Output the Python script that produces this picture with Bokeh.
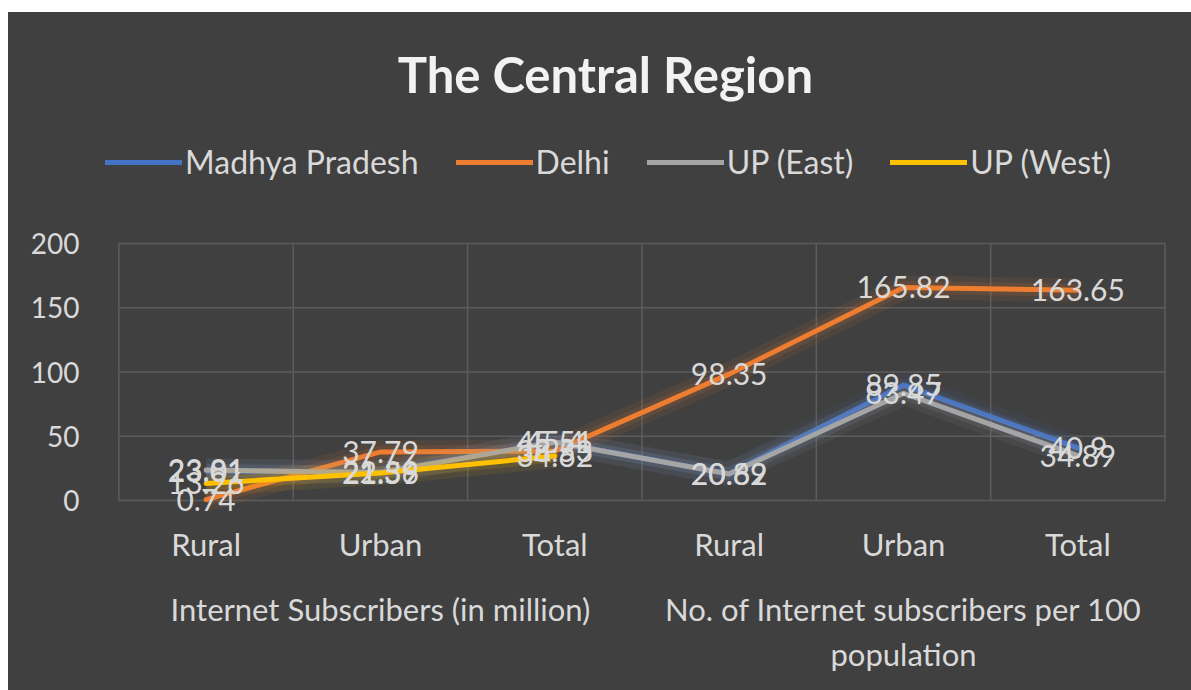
import math
from bokeh.plotting import figure
from bokeh.layouts import column, row
from bokeh.core.properties import value
from bokeh.models import (FactorRange, ColumnDataSource, LabelSet, Label, Legend, LegendItem, Range1d,
                          FixedTicker, Spacer, CategoricalAxis)
from bokeh.embed import file_html
from bokeh.resources import INLINE

title_text = "The Central Region"
groups = ["Internet Subscribers (in million)", "No. of Internet subscribers per 100\npopulation"]
categories = ["Rural", "Urban", "Total"]
series_names = ["Madhya Pradesh", "Delhi", "UP (East)", "UP (West)"]
madhya_pradesh = [23.01, 22.39, 45.51, 20.82, 89.85, 40.9]
delhi = [0.74, 37.79, 38.53, 98.35, 165.82, 163.65]
up_east = [23.81, 21.59, 45.40, 20.69, 83.47, 34.89]
up_west = [13.26, 21.36, 34.62, float("nan"), float("nan"), float("nan")]
y_ticks = [0, 50, 100, 150, 200]

colors = ["#4472c4", "#ed7d31", "#a5a5a5", "#ffc000"]
series = [madhya_pradesh, delhi, up_east, up_west]
factors = [(g, c) for g in groups for c in categories]

FONT = "Lato"
BG = "#404040"
TXT = "#d9d9d9"
GRID = "#5c5c5c"

PAD = 0.1
p = figure(width=1183, height=678, output_backend="svg", toolbar_location=None,
           x_range=FactorRange(*factors, group_padding=0, factor_padding=0,
                               range_padding=PAD, range_padding_units="absolute"),
           y_range=Range1d(-11.67, 379.8),
           background_fill_color=BG, border_fill_color=BG, outline_line_color=None,
           min_border_left=93, min_border_right=9, min_border_top=0, min_border_bottom=175)
p.styles = {"background-color": BG}
p.extra_x_ranges = {"groups": FactorRange(*groups, factor_padding=0,
                                          range_padding=PAD / len(categories), range_padding_units="absolute")}

# grid drawn only over the data area
p.xgrid.grid_line_color = None
p.ygrid.grid_line_color = None
n = len(factors)
p.segment(x0=list(range(n + 1)), y0=[y_ticks[0]] * (n + 1), x1=list(range(n + 1)), y1=[y_ticks[-1]] * (n + 1),
          line_color=GRID, line_width=1.5)
p.segment(x0=[0] * len(y_ticks), y0=y_ticks, x1=[n] * len(y_ticks), y1=y_ticks,
          line_color=GRID, line_width=1.5)

# axes
p.yaxis.ticker = FixedTicker(ticks=y_ticks)
p.yaxis.axis_line_color = None
p.yaxis.major_tick_line_color = None
p.yaxis.minor_tick_line_color = None
p.yaxis.major_label_text_font = FONT
p.yaxis.major_label_text_font_size = "28px"
p.yaxis.major_label_text_color = TXT
p.yaxis.major_label_standoff = 16

xa = p.xaxis[0]
xa.axis_line_color = None
xa.major_tick_line_color = None
xa.minor_tick_line_color = None
xa.major_label_text_font = FONT
xa.major_label_text_font_size = "31px"
xa.major_label_text_color = TXT
xa.major_label_standoff = 3
xa.group_text_font_size = "1px"
xa.group_text_alpha = 0
xa.separator_line_alpha = 0

ga = CategoricalAxis(x_range_name="groups")
ga.axis_line_color = None
ga.major_tick_line_color = None
ga.minor_tick_line_color = None
ga.major_label_text_font = FONT
ga.major_label_text_font_size = "31px"
ga.major_label_text_color = TXT
ga.major_label_standoff = 18
p.add_layout(ga, "below")

items = []
for name, vals, col in zip(series_names, series, colors):
    src = ColumnDataSource(dict(x=factors, y=vals))
    p.line("x", "y", source=src, line_color=col, line_width=24, line_alpha=0.08)
    p.line("x", "y", source=src, line_color=col, line_width=13, line_alpha=0.12)
    r = p.line("x", "y", source=src, line_color=col, line_width=5, line_cap="round", line_join="round")
    items.append(LegendItem(label=name, renderers=[r]))

for name, vals in zip(series_names, series):
    fx = [f for f, v in zip(factors, vals) if not math.isnan(v)]
    fv = [v for v in vals if not math.isnan(v)]
    txt = [("%g" % v) for v in fv]
    src = ColumnDataSource(dict(x=fx, y=fv, t=txt))
    p.add_layout(LabelSet(x="x", y="y", text="t", source=src, text_align="center", text_baseline="middle",
                          text_font=value(FONT), text_font_size="30px", text_color=TXT))

p.add_layout(Label(x=2.79, y=332.3, text=title_text, text_align="center", text_baseline="middle",
                   text_font=FONT, text_font_size="49px", text_font_style="bold", text_color="#f2f2f2"))

legend = Legend(items=items, orientation="horizontal", location=(4, 334),
                background_fill_alpha=0, border_line_color=None,
                label_text_font=FONT, label_text_font_size="32px", label_text_color=TXT,
                glyph_width=77, glyph_height=20, label_standoff=3, spacing=37, margin=0, padding=0)
p.add_layout(legend)

layout = column(Spacer(height=12), row(Spacer(width=8), p))
open("out.html", "w").write(file_html(layout, INLINE))
